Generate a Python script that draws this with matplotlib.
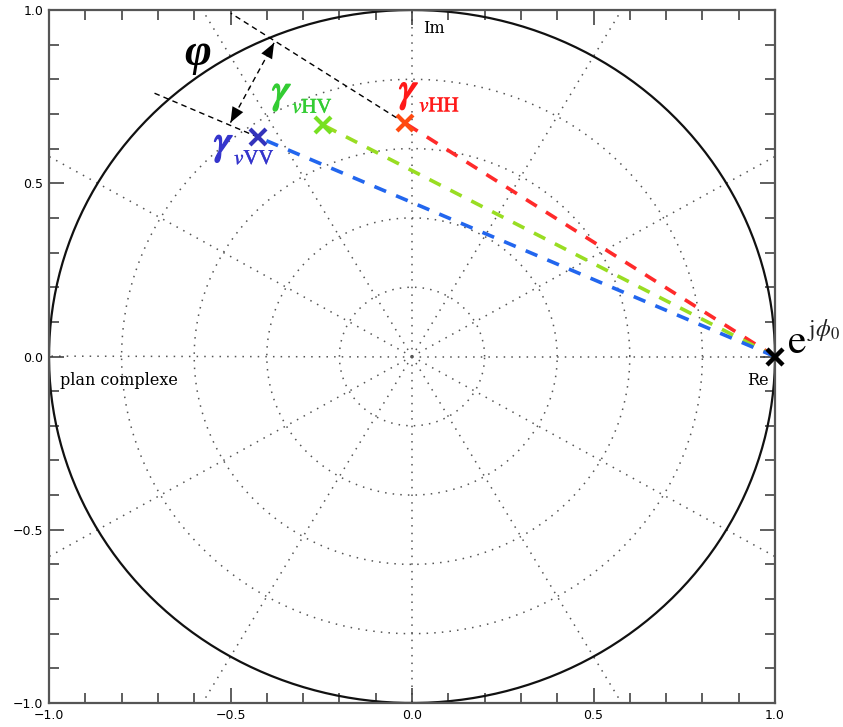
import numpy as np
import matplotlib
matplotlib.use("Agg")
import matplotlib.pyplot as plt
import matplotlib.patheffects as pe

# ---- data ----
labels = ["HH", "HV", "VV"]
gamma_x = [-0.02, -0.245, -0.424]
gamma_y = [0.674, 0.668, 0.633]
line_colors = ["#ff2a2a", "#99dd22", "#2266ee"]
marker_colors = ["#ff4a10", "#77e022", "#3333bb"]
text_colors = ["#ff1a1a", "#33cc33", "#3535cc"]
label_x = [-0.036, -0.386, -0.546]
label_y = [0.737, 0.733, 0.585]
ref_point = (1.0, 0.0)
grid_radii = [0.2, 0.4, 0.6, 0.8]
grid_angles = list(range(0, 360, 30))
xticks = [-1.0, -0.5, 0.0, 0.5, 1.0]
yticks = [-1.0, -0.5, 0.0, 0.5, 1.0]
arrow_a = (-0.38, 0.905)
arrow_b = (-0.50, 0.675)

plt.rcParams["mathtext.fontset"] = "stix"

fig = plt.figure(figsize=(8.43, 7.27), dpi=100)
ax = fig.add_axes([49/843, 1-703/727, 726/843, 693/727])
ax.set_xlim(-1, 1)
ax.set_ylim(-1, 1)

# polar grid
th = np.linspace(0, 2*np.pi, 400)
for r in grid_radii:
    ax.plot(r*np.cos(th), r*np.sin(th), color="#555555", lw=1.1,
            linestyle=(0, (1, 4)), zorder=1)
for a in grid_angles:
    t = np.deg2rad(a)
    ax.plot([0, 2*np.cos(t)], [0, 2*np.sin(t)], color="#555555", lw=1.1,
            linestyle=(0, (1, 4)), zorder=1)

# unit circle
ax.plot(np.cos(th), np.sin(th), color="#111111", lw=1.6, zorder=2)

# colored dashed lines and markers
for gx, gy, lc in zip(gamma_x, gamma_y, line_colors):
    ax.plot([ref_point[0], gx], [ref_point[1], gy], color=lc, lw=2.6,
            dashes=(3.5, 3), zorder=3)
for gx, gy, mc in zip(gamma_x, gamma_y, marker_colors):
    ax.plot(gx, gy, marker="x", color=mc, ms=11, mew=3, zorder=4)

# extension lines (black dashed) for HH and VV
for idx, tmax in [(0, 0.47), (2, 0.205)]:
    gx, gy = gamma_x[idx], gamma_y[idx]
    dx, dy = gx - ref_point[0], gy - ref_point[1]
    ax.plot([gx, gx + tmax*dx], [gy, gy + tmax*dy], color="black", lw=1.0,
            dashes=(4, 3), zorder=3)

# phi arrow: dashed shaft + solid heads
ax.plot([arrow_a[0], arrow_b[0]], [arrow_a[1], arrow_b[1]], color="black",
        lw=1.0, dashes=(4, 3), zorder=5)
for tip, tail in [(arrow_a, arrow_b), (arrow_b, arrow_a)]:
    mid = (tip[0] + 0.25*(tail[0]-tip[0]), tip[1] + 0.25*(tail[1]-tip[1]))
    ax.annotate("", xy=tip, xytext=mid,
                arrowprops=dict(arrowstyle="-|>,head_length=0.55,head_width=0.22",
                                color="black", lw=0.01, mutation_scale=20,
                                shrinkA=0, shrinkB=0), zorder=5)
ax.text(-0.59, 0.872, "φ", fontsize=33, fontweight="bold", fontstyle="italic",
        family="Liberation Serif", ha="center", va="center")

# gamma labels
for lab, lx, ly, tc in zip(labels, label_x, label_y, text_colors):
    ax.text(lx, ly, r"$\gamma$", color=tc, fontsize=30,
            ha="left", va="baseline", zorder=6,
            path_effects=[pe.withStroke(linewidth=1.2, foreground=tc)])
    ax.text(lx + 0.056, ly - 0.03, r"$\mathit{v}\mathrm{%s}$" % lab, color=tc,
            fontsize=15, ha="left", va="baseline", zorder=6,
            path_effects=[pe.withStroke(linewidth=0.3, foreground=tc)])

# reference point marker
ax.plot(ref_point[0], ref_point[1], marker="x", color="black", ms=11, mew=3.2,
        zorder=6, clip_on=False)
ax.text(1.033, 0.01, r"$\mathrm{e}$", fontsize=30, ha="left", va="baseline",
        clip_on=False)
ax.text(1.088, 0.06, r"$\mathrm{j}\phi_0$", fontsize=17, ha="left",
        va="baseline", clip_on=False, color="#222222")

# texts
ax.text(0.03, 0.934, "Im", fontsize=11.5, family="DejaVu Serif",
        ha="left", va="baseline")
ax.text(0.923, -0.082, "Re", fontsize=11.5, family="DejaVu Serif",
        ha="left", va="baseline")
ax.text(-0.97, -0.082, "plan complexe", fontsize=11.5, family="DejaVu Serif",
        ha="left", va="baseline")

# ticks and spines
ax.set_xticks(xticks)
ax.set_yticks(yticks)
ax.set_xticks(np.arange(-1.0, 1.01, 0.1), minor=True)
ax.set_yticks(np.arange(-1.0, 1.01, 0.1), minor=True)
ax.set_xticklabels(["−1.0", "−0.5", "0.0", "0.5", "1.0"])
ax.set_yticklabels(["−1.0", "−0.5", "0.0", "0.5", "1.0"])
ax.tick_params(which="both", direction="in", top=True, right=True,
               color="#333333", labelsize=9, width=1.1)
ax.tick_params(which="major", length=11, pad=4)
ax.tick_params(which="minor", length=7)
for s in ax.spines.values():
    s.set_color("#555555")
    s.set_linewidth(1.6)

fig.savefig("out.png", dpi=100)
